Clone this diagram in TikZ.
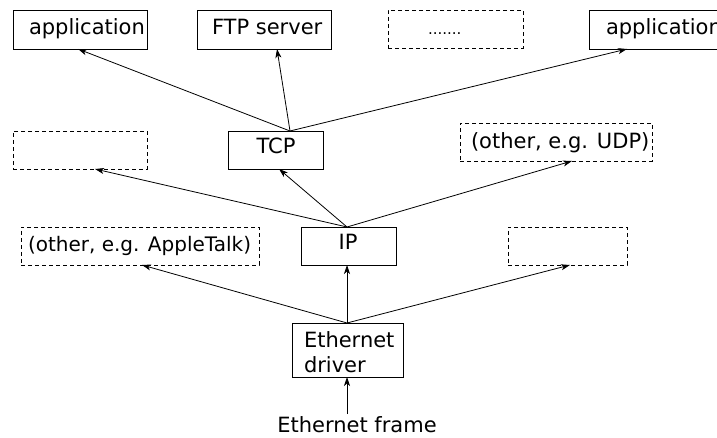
\documentclass[tikz,border=0pt]{standalone}
\usepackage{fontspec}
\setmainfont{DejaVu Sans}
\usetikzlibrary{arrows.meta,calc}
\tikzset{
 box/.style={draw, line width=0.8pt, inner sep=0pt, outer sep=0pt, anchor=north west},
 dbox/.style={box, dash pattern=on 4pt off 3pt},
 txt/.style={inner sep=0pt, outer sep=0pt, anchor=base west, font=\fontsize{21}{25}\selectfont},
 arr/.style={line width=0.8pt, -{Stealth[length=9pt,width=6pt,inset=2.5pt]}},
}
\begin{document}
\begin{tikzpicture}[x=1pt,y=-1pt]
\useasboundingbox (0,0) rectangle (717,438);
\fill[white] (0,0) rectangle (717,438);
\clip (0,0) rectangle (717,438);
% top row
\node[box, minimum width=134pt, minimum height=39pt] (app1) at (13,10) {};
\node[txt] (app1t) at (29,35) {application};
\node[box, minimum width=134pt, minimum height=39pt] (ftp) at (197,10) {};
\node[txt] (ftpt) at (212,35) {FTP server};
\node[dbox, minimum width=135pt, minimum height=38pt] (dots) at (388,10) {};
\node[txt, font=\fontsize{15}{18}\selectfont] (dotst) at (428,35) {.......};
\node[box, minimum width=140pt, minimum height=39pt] (app2) at (589,10) {};
\node[txt] (app2t) at (606,35) {application};
% second row
\node[dbox, minimum width=134pt, minimum height=38pt] (dl) at (13,131) {};
\node[box, minimum width=95pt, minimum height=38pt] (tcp) at (228,131) {};
\node[txt, anchor=base] (tcpt) at (276,154) {TCP};
\node[dbox, minimum width=192pt, minimum height=38pt] (udp) at (460,123) {};
\node[txt] (udpt) at (471,149) {(other, e.g. UDP)};
% third row
\node[dbox, minimum width=238pt, minimum height=38pt] (atalk) at (21,227) {};
\node[txt, font=\fontsize{20}{25}\selectfont] (atalkt) at (28,252) {(other, e.g. AppleTalk)};
\node[box, minimum width=95pt, minimum height=38pt] (ip) at (301,227) {};
\node[txt, anchor=base] (ipt) at (348,250) {IP};
\node[dbox, minimum width=119pt, minimum height=38pt] (dr) at (508,227) {};
% ethernet
\node[box, minimum width=111pt, minimum height=54pt] (eth) at (292,323) {};
\node[txt, anchor=north west, align=left] (etht) at (304,331.5) {Ethernet\\driver};
\node[txt, anchor=base] (frame) at (357,432) {Ethernet frame};
% connectors
\coordinate (T) at ($(tcp.north west)+(62,0)$);
\draw[arr] (T) -- ($(app1.south west)+(65,0)$);
\draw[arr] (T) -- ($(ftp.south west)+(80,0)$);
\draw[arr] (T) -- ($(app2.south west)+(38,0)$);
\coordinate (I) at ($(ip.north west)+(46,0)$);
\draw[arr] (I) -- ($(dl.south west)+(82,0)$);
\draw[arr] (I) -- ($(tcp.south west)+(51,0)$);
\draw[arr] (I) -- ($(udp.south west)+(112,0)$);
\coordinate (E) at ($(eth.north west)+(55,0)$);
\draw[arr] (E) -- ($(atalk.south west)+(121,0)$);
\draw[arr] (E) -- ($(ip.south west)+(46,0)$);
\draw[arr] (E) -- ($(dr.south west)+(62,0)$);
\draw[arr] ($(frame.north)+(-10,-2)$) -- ($(eth.south west)+(55,0)$);
\end{tikzpicture}
\end{document}
